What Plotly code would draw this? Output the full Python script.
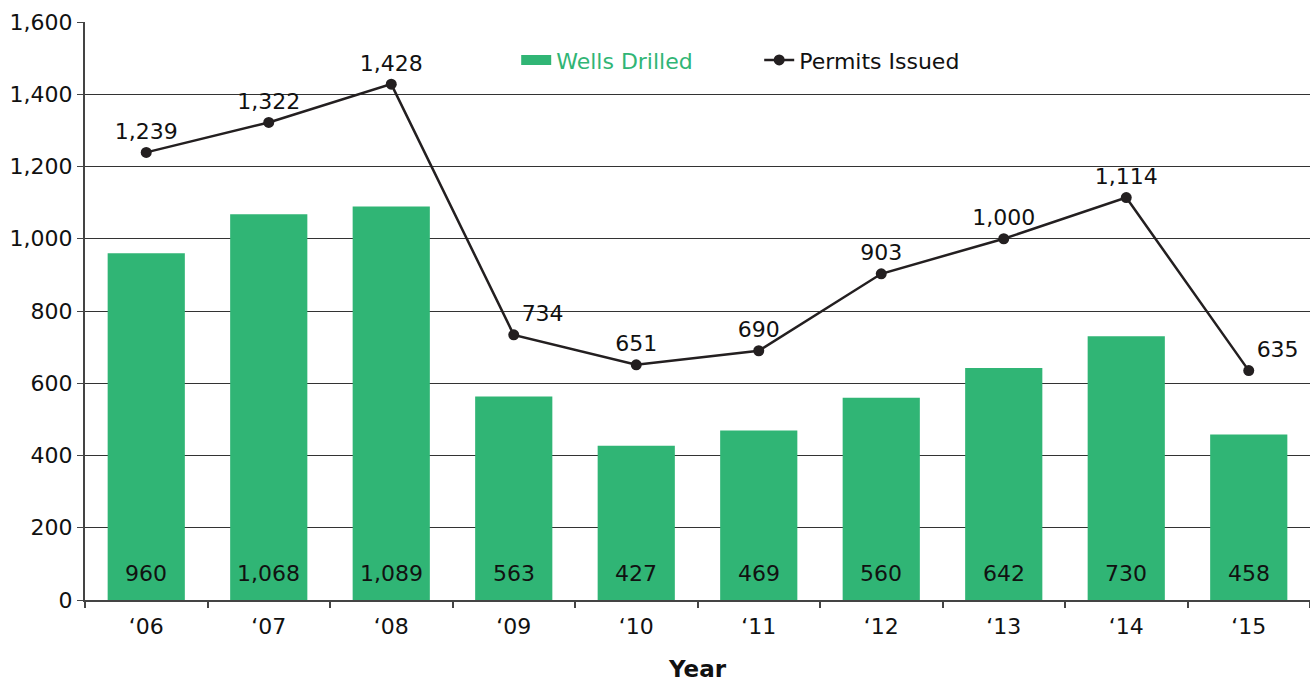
import plotly.graph_objects as go

years = ["‘06", "‘07", "‘08", "‘09", "‘10", "‘11", "‘12", "‘13", "‘14", "‘15"]
wells_drilled = [960, 1068, 1089, 563, 427, 469, 560, 642, 730, 458]
permits_issued = [1239, 1322, 1428, 734, 651, 690, 903, 1000, 1114, 635]
permit_label_pos = ["top center", "top center", "top center", "top right", "top center",
                    "top center", "top center", "top center", "top center", "top right"]

GREEN = "#30b575"
DARK = "#231f20"
FONT = "DejaVu Sans"
FS = 22

fig = go.Figure()
fig.add_trace(go.Bar(
    x=years, y=wells_drilled, name="Wells Drilled", showlegend=False,
    marker=dict(color=GREEN, line=dict(width=0)), width=0.63,
))
# legend entry for the bars (wide rectangle swatch)
fig.add_trace(go.Scatter(
    x=[None], y=[None], mode="lines", name=f"<span style='color:{GREEN}'>Wells Drilled</span>",
    line=dict(color=GREEN, width=14),
))
fig.add_trace(go.Scatter(
    x=years, y=permits_issued, name="Permits Issued", mode="lines+markers+text",
    line=dict(color=DARK, width=2.5), marker=dict(color=DARK, size=11),
    text=[f"{v:,}" for v in permits_issued], textposition=permit_label_pos,
    textfont=dict(size=FS, color="#111", family=FONT),
))
for x, v in zip(years, wells_drilled):
    fig.add_annotation(x=x, y=0, text=f"{v:,}", showarrow=False, yshift=27,
                       font=dict(size=FS, color="#111", family=FONT))

fig.update_layout(
    width=1310, height=682,
    margin=dict(l=85, r=0, t=22, b=82),
    plot_bgcolor="white", paper_bgcolor="white",
    font=dict(family=FONT, size=FS, color="#111"),
    bargap=0.37,
    legend=dict(orientation="h", x=0.352, xanchor="left", y=0.934, yanchor="middle",
                font=dict(size=FS), traceorder="normal", entrywidth=198,
                bgcolor="rgba(0,0,0,0)"),
    xaxis=dict(title=dict(text="<b>Year</b>", font=dict(size=23, color="#111"), standoff=25),
               range=[-0.5, len(years) - 0.5],
               showline=True, linecolor="#444", linewidth=2, ticks="outside",
               tickson="boundaries", ticklen=6, tickcolor="#444", tickwidth=1.5,
               ticklabelstandoff=6, tickfont=dict(size=FS), automargin=False),
    yaxis=dict(range=[0, 1600], dtick=200, tickformat=",", showgrid=True,
               gridcolor="#333", gridwidth=1, showline=True, linecolor="#444",
               linewidth=2, ticks="outside", ticklen=6, tickcolor="#444",
               tickfont=dict(size=FS), zeroline=False, automargin=False),
)
fig.write_html("out.html", post_script="document.body.style.margin='0';",
               config={"displayModeBar": False})
